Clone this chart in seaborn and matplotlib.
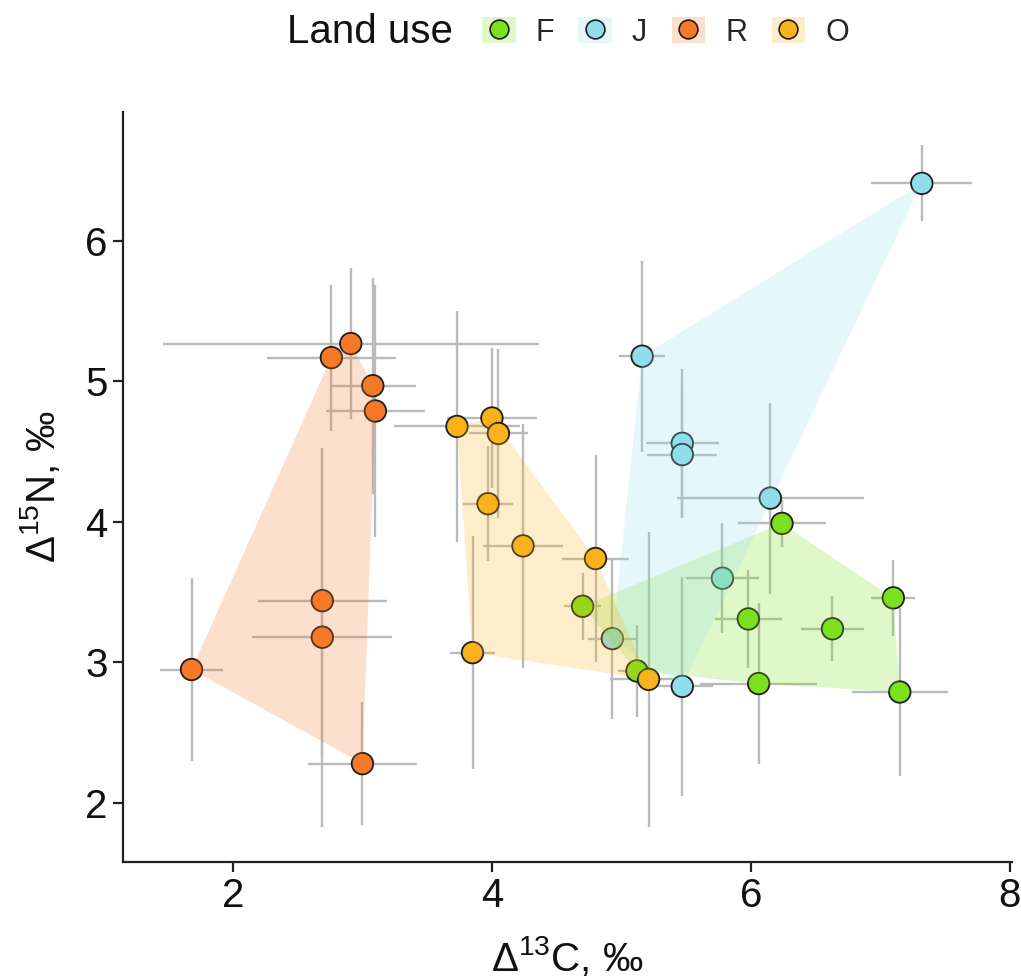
import numpy as np
import pandas as pd
import matplotlib
matplotlib.use("Agg")
import matplotlib.pyplot as plt
from matplotlib.patches import Rectangle
from matplotlib.lines import Line2D
import seaborn as sns

# ---- data: mean offsets and their spreads per land-use group ----
land_use = ["F", "J", "R", "O"]
point_colors = ["#7ce01e", "#8fdfea", "#f47a28", "#fab21c"]

f_c13 = [4.70, 5.12, 5.98, 6.24, 6.06, 6.63, 7.10, 7.15]
f_n15 = [3.40, 2.94, 3.31, 3.99, 2.85, 3.24, 3.46, 2.79]
f_c13_sd = [0.14, 0.15, 0.26, 0.34, 0.45, 0.24, 0.17, 0.37]
f_n15_sd = [0.24, 0.33, 0.35, 0.17, 0.57, 0.23, 0.27, 0.60]

j_c13 = [7.32, 5.16, 5.47, 5.47, 6.15, 5.78, 4.93, 5.47]
j_n15 = [6.41, 5.18, 4.56, 4.48, 4.17, 3.60, 3.17, 2.83]
j_c13_sd = [0.39, 0.18, 0.28, 0.27, 0.72, 0.28, 0.19, 0.24]
j_n15_sd = [0.27, 0.68, 0.53, 0.45, 0.68, 0.39, 0.57, 0.78]

r_c13 = [1.68, 2.69, 2.69, 2.76, 2.91, 3.08, 3.10, 3.00]
r_n15 = [2.95, 3.44, 3.18, 5.17, 5.27, 4.97, 4.79, 2.28]
r_c13_sd = [0.24, 0.50, 0.54, 0.50, 1.45, 0.33, 0.38, 0.42]
r_n15_sd = [0.65, 1.09, 1.35, 0.52, 0.54, 0.77, 0.90, 0.44]

o_c13 = [3.73, 4.00, 4.05, 3.97, 4.24, 4.80, 3.85, 5.21]
o_n15 = [4.68, 4.74, 4.63, 4.13, 3.83, 3.74, 3.07, 2.88]
o_c13_sd = [0.49, 0.35, 0.23, 0.19, 0.31, 0.26, 0.17, 0.30]
o_n15_sd = [0.82, 0.50, 0.60, 0.41, 0.87, 0.74, 0.83, 1.05]

x_ticks = [2, 4, 6, 8]
y_ticks = [2, 3, 4, 5, 6]

groups = {
    "F": (f_c13, f_n15, f_c13_sd, f_n15_sd),
    "J": (j_c13, j_n15, j_c13_sd, j_n15_sd),
    "R": (r_c13, r_n15, r_c13_sd, r_n15_sd),
    "O": (o_c13, o_n15, o_c13_sd, o_n15_sd),
}

frames = []
for g, (xc, yn, xs, ys) in groups.items():
    frames.append(pd.DataFrame({"c13": xc, "n15": yn, "c13_sd": xs,
                                "n15_sd": ys, "land_use": g}))
df = pd.concat(frames, ignore_index=True)
palette = dict(zip(land_use, point_colors))


def convex_hull(points):
    """Monotone-chain convex hull, returned counter-clockwise."""
    pts = sorted(set(map(tuple, points)))
    if len(pts) < 3:
        return pts

    def cross(o, a, b):
        return (a[0] - o[0]) * (b[1] - o[1]) - (a[1] - o[1]) * (b[0] - o[0])

    lower, upper = [], []
    for p in pts:
        while len(lower) >= 2 and cross(lower[-2], lower[-1], p) <= 0:
            lower.pop()
        lower.append(p)
    for p in reversed(pts):
        while len(upper) >= 2 and cross(upper[-2], upper[-1], p) <= 0:
            upper.pop()
        upper.append(p)
    return lower[:-1] + upper[:-1]


# ---- styling ----
sns.set_theme(style="ticks")
plt.rcParams["font.family"] = ["Liberation Sans", "DejaVu Sans"]
plt.rcParams["mathtext.fontset"] = "custom"
plt.rcParams["mathtext.rm"] = "Liberation Sans"
plt.rcParams["mathtext.it"] = "Liberation Sans:italic"

fig = plt.figure(figsize=(10.21, 9.8), dpi=100)
ax = fig.add_axes([0.1205, 0.1204, 0.8705, 0.7653])

# error bars
ax.errorbar(df["c13"], df["n15"], xerr=df["c13_sd"], yerr=df["n15_sd"],
            fmt="none", ecolor="#bababa", elinewidth=1.7, capsize=0,
            zorder=1)

# points
sns.scatterplot(data=df, x="c13", y="n15", hue="land_use",
                hue_order=land_use, palette=palette, s=240,
                edgecolor="#1e1e1e", linewidth=1.3, legend=False,
                zorder=2, ax=ax)

# translucent hulls around each group
HULL_ALPHA = 0.23
for g in land_use:
    sub = df[df["land_use"] == g]
    hull = np.array(convex_hull(sub[["c13", "n15"]].values))
    ax.fill(hull[:, 0], hull[:, 1], color=palette[g], alpha=HULL_ALPHA,
            lw=0, zorder=3)

ax.set_xlim(1.151, 8.015)
ax.set_ylim(1.58, 6.918)
ax.set_xticks(x_ticks)
ax.set_yticks(y_ticks)
ax.tick_params(axis="both", labelsize=29, length=7, width=1.6,
               color="#222222", labelcolor="#111111", pad=4)
for side in ("top", "right"):
    ax.spines[side].set_visible(False)
for side in ("left", "bottom"):
    ax.spines[side].set_linewidth(1.6)
    ax.spines[side].set_color("#222222")

ax.set_xlabel(r"$\mathregular{Δ^{13}}$C, ‰", fontsize=29, labelpad=14,
              color="#111111")
ax.set_ylabel(r"$\mathregular{Δ^{15}}$N, ‰", fontsize=29, labelpad=16,
              color="#111111")

# legend across the top
fig.text(0.281, 0.967, "Land use", fontsize=29, va="center", ha="left",
         color="#111111")
handles = []
for g in land_use:
    box = Rectangle((0, 0), 1, 1, facecolor=palette[g], alpha=HULL_ALPHA,
                    edgecolor="none")
    dot = Line2D([], [], marker="o", linestyle="none", markersize=13.5,
                 markerfacecolor=palette[g], markeredgecolor="#1e1e1e",
                 markeredgewidth=1.2)
    handles.append((box, dot))
fig.legend(handles, land_use, loc="center left",
           bbox_to_anchor=(0.472, 0.967), ncol=4, frameon=False,
           fontsize=22, handlelength=1.1, handleheight=0.95,
           handletextpad=0.65, columnspacing=0.8, borderaxespad=0,
           borderpad=0)

fig.savefig("out.png", dpi=100, facecolor="white")
